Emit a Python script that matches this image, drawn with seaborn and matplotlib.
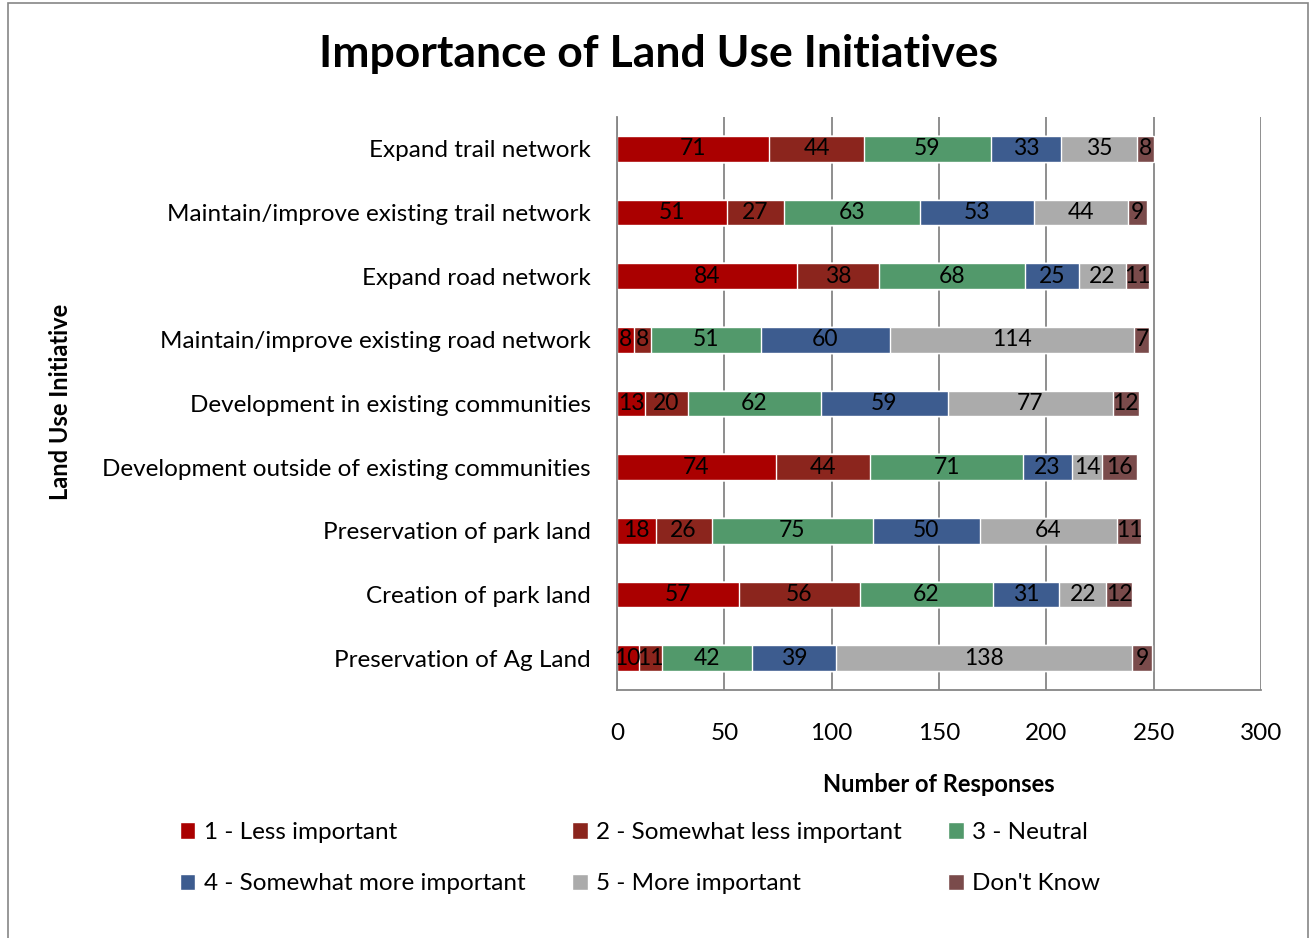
import numpy as np
import pandas as pd
import matplotlib
matplotlib.use("Agg")
import matplotlib.pyplot as plt
import seaborn as sns
from matplotlib.patches import Rectangle

initiatives = [
    "Expand trail network",
    "Maintain/improve existing trail network",
    "Expand road network",
    "Maintain/improve existing road network",
    "Development in existing communities",
    "Development outside of existing communities",
    "Preservation of park land",
    "Creation of park land",
    "Preservation of Ag Land",
]
series = [
    "1 - Less important",
    "2 - Somewhat less important",
    "3 - Neutral",
    "4 - Somewhat more important",
    "5 - More important",
    "Don't Know",
]
less_important = [71, 51, 84, 8, 13, 74, 18, 57, 10]
somewhat_less = [44, 27, 38, 8, 20, 44, 26, 56, 11]
neutral = [59, 63, 68, 51, 62, 71, 75, 62, 42]
somewhat_more = [33, 53, 25, 60, 59, 23, 50, 31, 39]
more_important = [35, 44, 22, 114, 77, 14, 64, 22, 138]
dont_know = [8, 9, 11, 7, 12, 16, 11, 12, 9]

colors = ["#AA0000", "#8B251D", "#52996B", "#3D5C8F", "#ABABAB", "#7A4B4B"]

values = np.array([less_important, somewhat_less, neutral,
                   somewhat_more, more_important, dont_know])
cum = values.cumsum(axis=0)

sns.set_style("white")
plt.rcParams["font.family"] = ["Lato", "DejaVu Sans"]
plt.rcParams["text.color"] = "black"
plt.rcParams["axes.labelcolor"] = "black"
plt.rcParams["xtick.color"] = "black"
plt.rcParams["ytick.color"] = "black"

fig = plt.figure(figsize=(13.14, 9.38), dpi=100)
ax = fig.add_axes([0.4696, 0.2644, 0.4901, 0.6109])

# draw cumulative totals from the last series back to the first
for i in range(len(series) - 1, -1, -1):
    df = pd.DataFrame({"initiative": initiatives, "total": cum[i]})
    sns.barplot(data=df, y="initiative", x="total", orient="h",
                color=colors[i], width=0.4, saturation=1,
                ax=ax, label=series[i], zorder=2)

# segment labels
for i in range(len(series)):
    for j in range(len(initiatives)):
        ax.text(cum[i][j] - values[i][j] / 2, j, str(values[i][j]),
                ha="center", va="center", fontsize=16.5, color="black", zorder=3)

ax.set_xlim(0, 300)
ax.set_ylim(len(initiatives) - 0.5, -0.5)
ax.set_xticks(range(0, 301, 50))
ax.tick_params(axis="x", labelsize=17.5, length=5, color="#868686",
                labelcolor="black", pad=19)
ax.tick_params(axis="y", which="major", length=0, labelsize=17.5, pad=19,
                labelcolor="black")
ax.set_yticks(np.arange(-0.5, len(initiatives), 1), minor=True)
ax.tick_params(axis="y", which="minor", length=8, color="#868686")
ax.grid(axis="x", color="#868686", linewidth=1.3)
ax.set_axisbelow(True)
for s in ["top", "right"]:
    ax.spines[s].set_visible(False)
for s in ["left", "bottom"]:
    ax.spines[s].set_color("#868686")
    ax.spines[s].set_linewidth(1.3)

ax.set_xlabel("Number of Responses", fontsize=17, fontweight="bold", labelpad=21)
ax.set_ylabel("")
fig.text(0.046, 0.572, "Land Use Initiative", rotation=90, ha="center",
         va="center", fontsize=17, fontweight="bold")
fig.text(0.501, 0.942, "Importance of Land Use Initiatives", ha="center",
         va="center", fontsize=32, fontweight="bold")

handles, labels = ax.get_legend_handles_labels()
order = {lab: h for h, lab in zip(handles, labels)}
seq = [series[0], series[3], series[1], series[4], series[2], series[5]]
ax.legend().remove()
fig.legend([order[s] for s in seq], seq, ncol=3, loc="center",
           bbox_to_anchor=(0.487, 0.085), frameon=False, fontsize=17.5,
           handlelength=0.65, handleheight=0.65, handletextpad=0.35,
           columnspacing=1.9, labelspacing=1.25)

fig.add_artist(Rectangle((8 / 1314, -0.01), 1300 / 1314, 1.01 - 3 / 938,
                         transform=fig.transFigure, fill=False,
                         edgecolor="#868686", linewidth=1.2))

fig.savefig("out.png", dpi=100)
